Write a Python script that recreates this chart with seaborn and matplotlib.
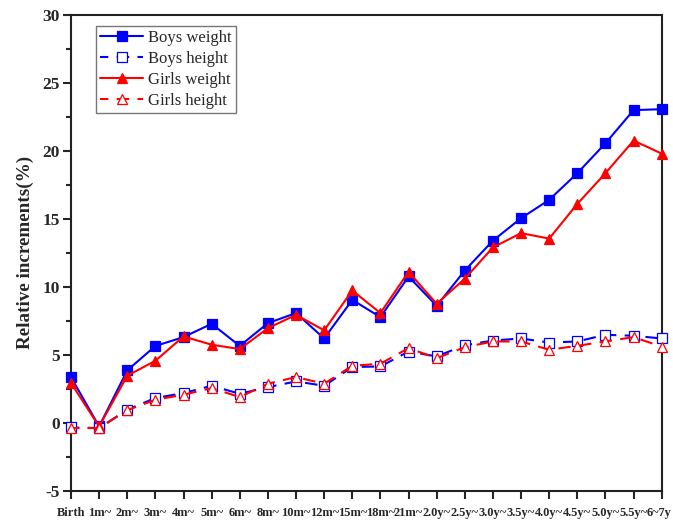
import numpy as np
import pandas as pd
import matplotlib
matplotlib.use("Agg")
import matplotlib.pyplot as plt
from matplotlib.ticker import MultipleLocator
from matplotlib.transforms import ScaledTranslation
import seaborn as sns

ages = ["Birth", "1m~", "2m~", "3m~", "4m~", "5m~", "6m~", "8m~", "10m~", "12m~",
        "15m~", "18m~", "21m~", "2.0y~", "2.5y~", "3.0y~", "3.5y~", "4.0y~",
        "4.5y~", "5.0y~", "5.5y~", "6~7y"]

boys_weight = [3.35, -0.27, 3.85, 5.65, 6.3, 7.28, 5.65, 7.33, 8.07, 6.2,
               9.04, 7.77, 10.76, 8.6, 11.2, 13.4, 15.05, 16.4, 18.36, 20.56, 23.0, 23.07]
boys_height = [-0.35, -0.39, 0.96, 1.82, 2.18, 2.72, 2.13, 2.62, 3.04, 2.72,
               4.1, 4.14, 5.24, 4.88, 5.7, 6.05, 6.2, 5.9, 5.98, 6.47, 6.4, 6.2]
girls_weight = [2.92, -0.27, 3.46, 4.56, 6.35, 5.74, 5.42, 6.96, 7.94, 6.8,
                9.73, 8.07, 11.1, 8.75, 10.6, 12.9, 13.95, 13.55, 16.1, 18.36, 20.76, 19.8]
girls_height = [-0.4, -0.39, 0.93, 1.69, 2.06, 2.55, 1.89, 2.87, 3.36, 2.87,
                4.19, 4.34, 5.49, 4.75, 5.56, 5.98, 5.98, 5.37, 5.66, 5.98, 6.3, 5.6]

sns.set_style("ticks")
plt.rcParams["font.family"] = ["Liberation Serif", "DejaVu Serif"]
plt.rcParams["axes.unicode_minus"] = False

fig = plt.figure(figsize=(6.73, 5.21), dpi=100)
ax = fig.add_axes([71 / 673, 1 - 490.7 / 521, (661.7 - 71) / 673, (490.7 - 15) / 521])

x = np.arange(len(ages))
series = [
    ("Boys weight", boys_weight, "#0000ff", "s", "-", "#0000ff"),
    ("Boys height", boys_height, "#0000ff", "s", (2, (6, 4)), "white"),
    ("Girls weight", girls_weight, "#ff0000", "^", "-", "#ff0000"),
    ("Girls height", girls_height, "#ff0000", "^", (2, (6, 4)), "white"),
]
for name, vals, col, mk, ls, face in series:
    df = pd.DataFrame({"age": x, "value": vals})
    sns.lineplot(data=df, x="age", y="value", ax=ax, color=col, marker=mk,
                 linestyle=ls, linewidth=1.5, markersize=7.5,
                 markerfacecolor=face, markeredgecolor=col, markeredgewidth=0.9,
                 label=name, clip_on=False, zorder=3)

ax.set_xlim(0, len(ages) - 1)
ax.set_ylim(-5, 30)
ax.set_xticks(x)
ax.set_xticklabels(ages, fontsize=8.9, fontweight="bold")
ax.yaxis.set_major_locator(MultipleLocator(5))
ax.yaxis.set_minor_locator(MultipleLocator(2.5))
for lab in ax.get_yticklabels():
    lab.set_fontweight("bold")
    lab.set_fontsize(12.5)
ax.tick_params(axis="both", which="major", direction="out", length=6, width=1.5, pad=2)
ax.tick_params(axis="y", which="minor", direction="out", length=3.5, width=1.5)
ax.tick_params(axis="x", pad=6)
for sp in ax.spines.values():
    sp.set_linewidth(1.5)
    sp.set_color("#222222")
ax.set_xlabel("")
ax.set_ylabel("Relative increments(%)", fontsize=13.8, fontweight="bold", labelpad=6)

# keep the last age label inside the canvas
last = ax.get_xticklabels()[-1]
last.set_transform(last.get_transform() + ScaledTranslation(-3 / 100, 0, fig.dpi_scale_trans))

leg = ax.legend(loc="upper left", bbox_to_anchor=(0.042, 0.977), fontsize=12,
                frameon=True, fancybox=False, edgecolor="#555555",
                handlelength=2.6, handletextpad=0.3, borderpad=0.25,
                labelspacing=0.3, borderaxespad=0.0)
leg.get_frame().set_linewidth(1.0)

fig.savefig("out.png", dpi=100)
